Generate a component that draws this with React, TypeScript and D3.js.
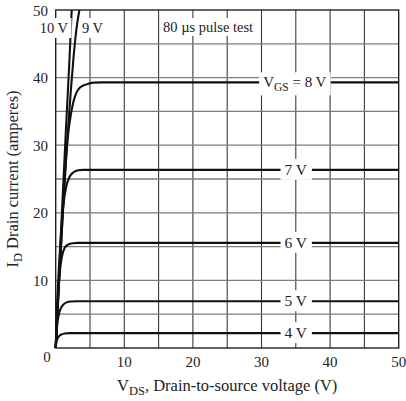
import React, { useEffect, useRef } from "react";
import * as d3 from "d3";

// ---- data (VDS in volts, ID in amperes) ----
const vgs4: [number, number][] = [[0, 0], [0.1, 0.8], [0.25, 1.35], [0.5, 1.75], [0.9, 2.02], [1.4, 2.15], [2, 2.2], [50, 2.2]];
const vgs5: [number, number][] = [[0, 0], [0.1, 2], [0.25, 3.7], [0.45, 4.9], [0.75, 5.9], [1.1, 6.4], [1.6, 6.75], [2.3, 6.88], [3, 6.92], [50, 6.92]];
const vgs6: [number, number][] = [[0, 0], [0.15, 4], [0.35, 8], [0.6, 11.3], [0.9, 13.5], [1.3, 14.8], [1.8, 15.3], [2.5, 15.5], [3.2, 15.55], [50, 15.55]];
const vgs7: [number, number][] = [[0, 0], [0.2, 6], [0.5, 12.5], [0.8, 17.5], [1.1, 21], [1.5, 23.7], [2, 25.3], [2.6, 26.0], [3.3, 26.3], [4, 26.35], [50, 26.35]];
const vgs8: [number, number][] = [[0, 0], [0.5, 10], [1, 19.5], [1.5, 28], [1.8, 31.5], [2.2, 34.5], [2.6, 36.5], [3, 37.7], [3.5, 38.5], [4.5, 39.0], [5.5, 39.25], [7, 39.3], [50, 39.3]];
const vgs9: [number, number][] = [[0, 0], [0.5, 10], [1.1, 21], [1.7, 31], [2.2, 38], [2.6, 43], [3.0, 47], [3.45, 50]];
const vgs10: [number, number][] = [[0, 0], [0.5, 11], [1, 22], [1.5, 32.5], [2, 42.5], [2.33, 50]];

const seriesList = [vgs4, vgs5, vgs6, vgs7, vgs8, vgs9, vgs10];
const flatLabels = ["4 V", "5 V", "6 V", "7 V"];
const flatSeries = [vgs4, vgs5, vgs6, vgs7];
const xTicks = [10, 20, 30, 40, 50];
const yTicks = [10, 20, 30, 40, 50];
const gridValues = [5, 10, 15, 20, 25, 30, 35, 40, 45];
const labelV = 35;

const FONT = "'Liberation Serif', 'Times New Roman', serif";

export default function App() {
  const ref = useRef<SVGSVGElement | null>(null);

  useEffect(() => {
    const svg = d3.select(ref.current);
    svg.selectAll("*").remove();
    const x = d3.scaleLinear().domain([0, 50]).range([55.7, 398.7]);
    const y = d3.scaleLinear().domain([0, 50]).range([348, 10]);

    // grid
    const g = svg.append("g");
    g.selectAll("line.v").data(gridValues).enter().append("line")
      .attr("x1", (d) => x(d)).attr("x2", (d) => x(d))
      .attr("y1", y(50)).attr("y2", y(0))
      .attr("stroke", "#3a3a3a").attr("stroke-width", 1.1);
    g.selectAll("line.h").data(gridValues).enter().append("line")
      .attr("y1", (d) => y(d)).attr("y2", (d) => y(d))
      .attr("x1", x(0)).attr("x2", x(50))
      .attr("stroke", "#7d7d7d").attr("stroke-width", 1.3);

    // border
    svg.append("rect")
      .attr("x", x(0)).attr("y", y(50))
      .attr("width", x(50) - x(0)).attr("height", y(0) - y(50))
      .attr("fill", "none").attr("stroke", "#222").attr("stroke-width", 1.4);

    // curves
    const line = d3.line<[number, number]>()
      .x((d) => x(d[0])).y((d) => y(d[1]))
      .curve(d3.curveMonotoneX);
    svg.append("g").selectAll("path").data(seriesList).enter().append("path")
      .attr("d", (d) => line(d) as string)
      .attr("fill", "none").attr("stroke", "#111").attr("stroke-width", 2.1);

    // labelled text with white background
    const addLabel = (
      tx: number, ty: number, anchor: string, size: number, padX: number, padY: number,
      build: (t: any) => void
    ) => {
      const lg = svg.append("g");
      const rect = lg.append("rect").attr("fill", "#fff");
      const t = lg.append("text")
        .attr("x", tx).attr("y", ty)
        .attr("text-anchor", anchor)
        .attr("font-family", FONT).attr("font-size", size).attr("fill", "#222");
      build(t);
      const bb = (t.node() as SVGTextElement).getBBox();
      rect.attr("x", bb.x - padX).attr("y", bb.y - padY)
        .attr("width", bb.width + 2 * padX).attr("height", bb.height + 2 * padY);
    };

    flatSeries.forEach((s, i) => {
      const lvl = s[s.length - 1][1];
      addLabel(x(labelV), y(lvl) + 5, "middle", 15.5, 4, 2, (t) => t.text(flatLabels[i]));
    });
    addLabel(x(labelV) - 1, y(vgs8[vgs8.length - 1][1]) + 5, "middle", 15, 4, 2, (t) => {
      t.append("tspan").text("V");
      t.append("tspan").attr("font-size", 11.5).attr("dy", 4).text("GS");
      t.append("tspan").attr("dy", -4).text(" = 8 V");
    });
    addLabel(68, 33, "end", 14.5, 3, 2, (t) => t.text("10 V"));
    addLabel(82, 33, "start", 14.5, 3, 2, (t) => t.text("9 V"));
    addLabel(163, 32, "start", 14.5, 3, 1, (t) => t.text("80 \u00B5s pulse test"));

    // tick labels
    const tl = svg.append("g").attr("font-family", FONT).attr("font-size", 15).attr("fill", "#222");
    tl.selectAll("text.x").data(xTicks).enter().append("text")
      .attr("x", (d) => x(d)).attr("y", 367).attr("text-anchor", "middle").text((d) => d);
    tl.selectAll("text.y").data(yTicks).enter().append("text")
      .attr("x", 48).attr("y", (d) => y(d) + 5.5).attr("text-anchor", "end").text((d) => d);
    tl.append("text").attr("x", 47).attr("y", 362).attr("text-anchor", "middle").text("0");

    // axis titles
    const xt = svg.append("text").attr("x", (x(0) + x(50)) / 2).attr("y", 391)
      .attr("text-anchor", "middle").attr("font-family", FONT).attr("font-size", 16.5).attr("fill", "#222");
    xt.append("tspan").text("V");
    xt.append("tspan").attr("font-size", 12.5).attr("dy", 4).text("DS");
    xt.append("tspan").attr("dy", -4).text(", Drain-to-source voltage (V)");

    const yt = svg.append("text")
      .attr("transform", `translate(18,${(y(0) + y(50)) / 2}) rotate(-90)`)
      .attr("text-anchor", "middle").attr("font-family", FONT).attr("font-size", 16.5).attr("fill", "#222");
    yt.append("tspan").text("I");
    yt.append("tspan").attr("font-size", 12.5).attr("dy", 4).text("D");
    yt.append("tspan").attr("dy", -4).text(" Drain current (amperes)");
  }, []);

  return (
    <svg ref={ref} width={406} height={401} style={{ position: "absolute", left: 0, top: 0, background: "#fff" }} />
  );
}
